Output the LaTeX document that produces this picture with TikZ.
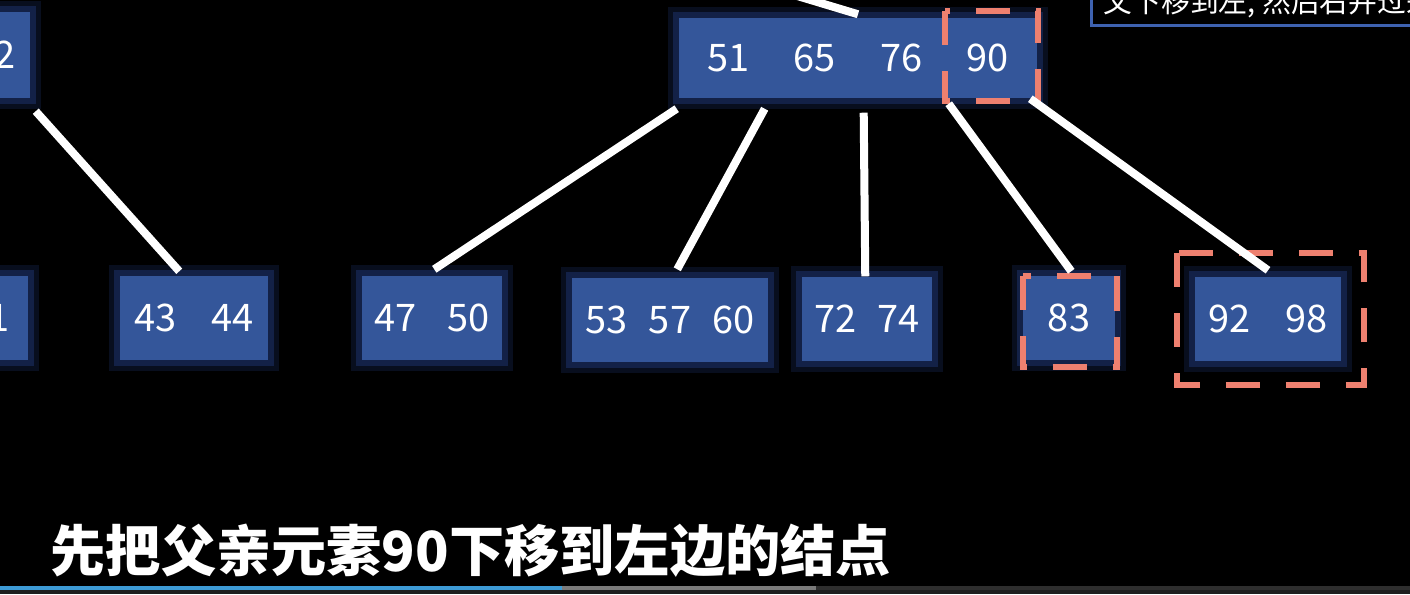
\documentclass[tikz,border=0pt]{standalone}
\usepackage{fontspec}
\setmainfont{Noto Sans CJK SC}
\usetikzlibrary{positioning}
\definecolor{nodeblue}{HTML}{34569A}
\definecolor{glowblue}{HTML}{22397A}
\definecolor{salmon}{HTML}{EE806F}
\definecolor{notebord}{HTML}{3E62B0}
\definecolor{barblue}{HTML}{3D9BD6}
\definecolor{bargray}{HTML}{7A7A7A}
\definecolor{bardark}{HTML}{2E2E2E}
\definecolor{barbg}{HTML}{1E1E1E}

\begin{document}
\begin{tikzpicture}[
x=0.01cm, y=-0.01cm,
key/.style={
fill=nodeblue,
text=white,
inner sep=0pt,
minimum height=0.84cm,
font=\fontsize{10.8pt}{12pt}\selectfont,
preaction={draw=glowblue, draw opacity=0.25, line width=0.22cm},
preaction={draw=glowblue, draw opacity=0.45, line width=0.12cm}
},
edge/.style={draw=white, line width=0.08cm},
hilite/.style={draw=salmon, line width=0.06cm, dash pattern=on 0.34cm off 0.26cm},
note/.style={
draw=notebord,
line width=0.03cm,
fill=black,
text=white,
font=\fontsize{8.2pt}{10pt}\selectfont,
inner xsep=0.12cm,
inner ysep=0.08cm
}
]
\fill[black] (0,0) rectangle (1410,594);
\useasboundingbox (0,0) rectangle (1410,594);
\clip (0,0) rectangle (1410,594);

% tree nodes
\node[key, minimum width=0.9cm, minimum height=0.85cm] (lt) at (-15,55) {\hspace{0.4cm}2};
\node[key, minimum width=0.97cm] (lb) at (-21,318) {\hspace{0.41cm}1};
\node[key, minimum width=1.48cm] (n4344) at (194,318) {43\hspace{0.35cm}44};
\node[key, minimum width=1.40cm] (n4750) at (432,318) {47\hspace{0.30cm}50};
\node[key, minimum width=1.96cm] (n535760) at (670,320) {53\hspace{0.21cm}57\hspace{0.21cm}60};
\node[key, minimum width=1.30cm] (n7274) at (867,319) {72\hspace{0.21cm}74};
\node[key, minimum width=0.92cm] (n83) at (1069,318) {83};
\node[key, minimum width=1.46cm] (n9298) at (1268,319) {92\hspace{0.34cm}98};
\node[key, minimum width=3.57cm, minimum height=0.80cm] (top) at (858,58) {51\hspace{0.44cm}65\hspace{0.44cm}76\hspace{0.44cm}90};

% dashed marks
\draw[hilite] ([shift={(-92,-6)}]top.north east) rectangle ([shift={(1,2)}]top.south east);
\draw[hilite] ([shift={(1,1)}]n83.north west) rectangle ([shift={(1,6)}]n83.south east);
\draw[hilite] ([shift={(-17,-23)}]n9298.north west) rectangle ([shift={(22,23)}]n9298.south east);

% links
\coordinate (up) at (794,-5);
\draw[edge] (up) -- ([shift={(0,-3)}]top.north);
\draw[edge] ([shift={(5,13)}]lt.south east) -- ([shift={(60,-4)}]n4344.north west);
\draw[edge] ([shift={(-2,10)}]top.south west) -- ([shift={(73,-6)}]n4750.north west);
\draw[edge] ([shift={(86,10)}]top.south west) -- ([shift={(106,-8)}]n535760.north west);
\draw[edge] ([shift={(185,14)}]top.south west) -- ([shift={(64,0)}]n7274.north west);
\draw[edge] ([shift={(270,5)}]top.south west) -- ([shift={(49,-4)}]n83.north west);
\draw[edge] ([shift={(-7,0)}]top.south east) -- ([shift={(0,-6)}]n9298.north);

% note and caption
\node[note, anchor=south west] (note) at (1090,27) {父下移到左, 然后右并过来};
\node[anchor=base west, inner sep=0pt, text=white, font=\fontsize{15.7pt}{18pt}\selectfont\bfseries] (caption) at (50,571) {先把父亲元素90下移到左边的结点};

% progress bar
\fill[barbg] (0,586) rectangle (1410,594);
\fill[barblue] (0,586) rectangle (562,590);
\fill[bargray] (562,586) rectangle (816,590);
\fill[bardark] (816,586) rectangle (1410,590);

\end{tikzpicture}
\end{document}
